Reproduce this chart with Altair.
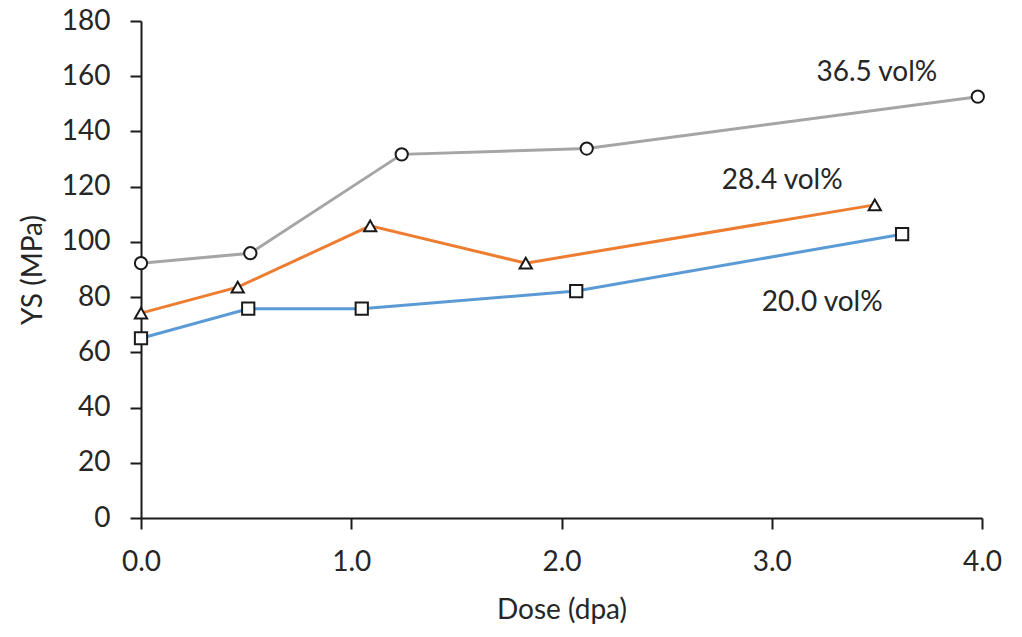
import altair as alt
import pandas as pd

# ---- data ----
series_names = ["20.0 vol%", "28.4 vol%", "36.5 vol%"]

dose_20 = [0.0, 0.51, 1.05, 2.07, 3.62]
ys_20 = [65.1, 75.8, 75.8, 82.2, 102.8]

dose_28 = [0.0, 0.46, 1.09, 1.83, 3.49]
ys_28 = [74.2, 83.6, 105.8, 92.3, 113.4]

dose_36 = [0.0, 0.52, 1.24, 2.12, 3.98]
ys_36 = [92.3, 95.9, 131.7, 133.8, 152.6]

label_text = ["36.5 vol%", "28.4 vol%", "20.0 vol%"]
label_x = [3.50, 3.05, 3.24]
label_y = [161.1, 121.9, 77.8]

x_ticks = [0, 1, 2, 3, 4]
y_ticks = [0, 20, 40, 60, 80, 100, 120, 140, 160, 180]

line_colors = ["#5B9BD5", "#ED7D31", "#A5A5A5"]
marker_shapes = ["square", "triangle-up", "circle"]

rows = []
for name, xs, ys in zip(series_names, [dose_20, dose_28, dose_36], [ys_20, ys_28, ys_36]):
    for i, (xv, yv) in enumerate(zip(xs, ys)):
        rows.append({"series": name, "dose": xv, "ys": yv, "order": i})
df = pd.DataFrame(rows)
labels_df = pd.DataFrame({"text": label_text, "x": label_x, "y": label_y})

FONT = "Lato"
TXT = "#262626"
AX = "#1a1a1a"

x_enc = alt.X(
    "dose:Q",
    scale=alt.Scale(domain=[0, 4], nice=False, zero=False),
    axis=alt.Axis(
        title="Dose (dpa)", values=x_ticks, format=".1f", grid=False,
        labelFont=FONT, labelFontSize=28, labelColor=TXT, labelPadding=19,
        titleFont=FONT, titleFontSize=28, titleFontWeight="normal", titleColor=TXT,
        titlePadding=20, tickSize=11, tickWidth=2, tickColor=AX,
        domainColor=AX, domainWidth=2, labelFlush=False,
    ),
)
y_enc = alt.Y(
    "ys:Q",
    scale=alt.Scale(domain=[0, 180], nice=False),
    axis=alt.Axis(
        title="YS (MPa)", values=y_ticks, grid=False,
        labelFont=FONT, labelFontSize=28, labelColor=TXT, labelPadding=20,
        titleFont=FONT, titleFontSize=28, titleFontWeight="normal", titleColor=TXT,
        titlePadding=14, tickSize=11, tickWidth=2, tickColor=AX,
        domainColor=AX, domainWidth=2, labelFlush=False,
    ),
)

color_scale = alt.Scale(domain=series_names, range=line_colors)
shape_scale = alt.Scale(domain=series_names, range=marker_shapes)

base = alt.Chart(df)
lines = base.mark_line(strokeWidth=3).encode(
    x=x_enc, y=y_enc,
    color=alt.Color("series:N", scale=color_scale, legend=None),
    order="order:Q",
    detail="series:N",
)
points = base.mark_point(filled=True, fill="white", stroke=AX, strokeWidth=2, size=150, opacity=1).encode(
    x="dose:Q", y="ys:Q",
    shape=alt.Shape("series:N", scale=shape_scale, legend=None),
)
texts = alt.Chart(labels_df).mark_text(font=FONT, fontSize=28, color=TXT, align="center", baseline="middle").encode(
    x="x:Q", y="y:Q", text="text:N",
)

chart = alt.layer(lines, points, texts).properties(
    width=841, height=497,
    autosize=alt.AutoSizeParams(type="none"),
    padding={"left": 133, "top": 13, "right": 30, "bottom": 106},
).configure_view(stroke=None)

chart.save("out.html", embed_options={"renderer": "svg", "actions": False})
